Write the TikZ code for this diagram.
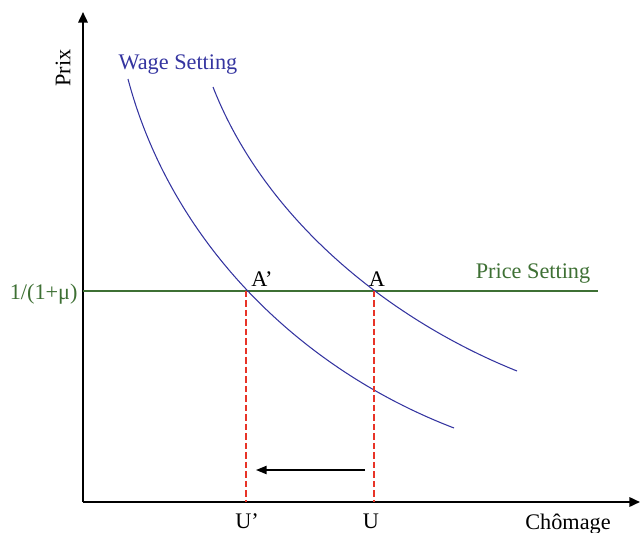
\documentclass[tikz,border=0pt]{standalone}
\usepackage{fontspec}
\setmainfont{Liberation Serif}
\usetikzlibrary{arrows.meta}
\definecolor{wageblue}{RGB}{52,52,160}
\definecolor{pricegreen}{RGB}{62,112,52}
\definecolor{shiftred}{RGB}{232,52,40}
\tikzset{
  every picture/.style={line width=0.7pt},
  axis/.style={line width=1.7pt, -{Triangle[length=9pt,width=8pt]}},
  wage/.style={wageblue, line width=0.9pt},
  price/.style={pricegreen, line width=1.3pt},
  udrop/.style={shiftred, line width=1.9pt, dash pattern=on 5.5pt off 2.6pt},
  ushift/.style={line width=1.2pt, -{Triangle[length=9pt,width=7pt]}},
  lbl/.style={font=\fontsize{19}{22}\selectfont, inner sep=0pt},
}

\begin{document}
\begin{tikzpicture}[x=0.03cm, y=-0.03cm]
\useasboundingbox (0,0) rectangle (640,533);
% axes
\coordinate (O) at (83,502);
\coordinate (ytop) at (83,12);
\coordinate (xend) at (640,502);
\draw[axis] (O) -- (ytop);
\draw[axis] (O) -- (xend);
\node[lbl, rotate=90] (prix) at (63,68) {Prix};
\node[lbl] (chomage) at (568,524) {Chômage};
% price setting
\coordinate (ps0) at (83,291);
\coordinate (ps1) at (598,291);
\draw[price] (ps0) -- (ps1);
\node[lbl, pricegreen, anchor=east] (mu) at (78,294) {1/(1+μ)};
\node[lbl, pricegreen] (pslbl) at (533,274) {Price Setting};
% wage setting curves
\draw[wage] (128,79) .. controls (170,238) and (295,367) .. (454,428);
\draw[wage] (213,87) .. controls (265,220) and (390,320) .. (517,371);
\node[lbl, wageblue] (wslbl) at (178,65) {Wage Setting};
% equilibria
\coordinate (Ap) at (246,291);
\coordinate (A) at (374,291);
\coordinate (Up) at (246,502);
\coordinate (U) at (374,502);
\node[lbl] (Aplbl) at (262,279) {A’};
\node[lbl] (Albl) at (377,279) {A};
\draw[udrop] (Ap) -- (Up);
\draw[udrop] (A) -- (U);
\node[lbl] (Uplbl) at (247,521) {U’};
\node[lbl] (Ulbl) at (371,521) {U};
% shift of unemployment
\coordinate (s0) at (365,470);
\coordinate (s1) at (256,470);
\draw[ushift] (s0) -- (s1);
\end{tikzpicture}
\end{document}
